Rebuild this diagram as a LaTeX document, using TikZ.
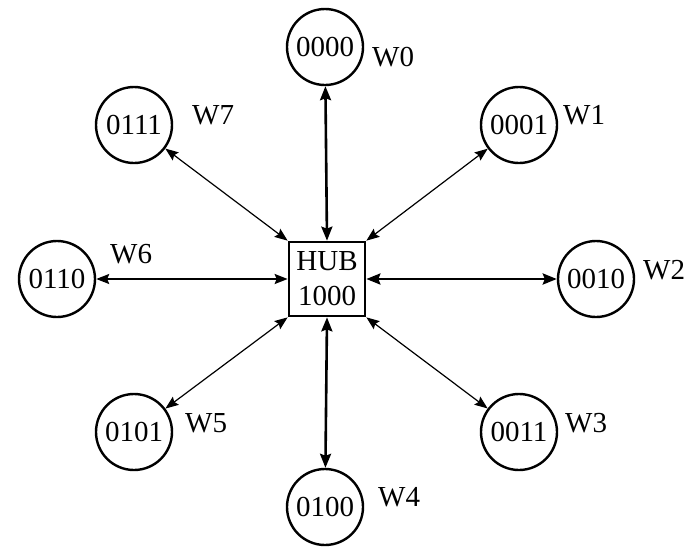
\documentclass[tikz,border=0pt]{standalone}
\usepackage{fontspec}
\setmainfont{Liberation Serif}
\usetikzlibrary{arrows.meta,positioning}
\tikzset{
  station/.style={draw,circle,line width=2.4pt,minimum size=76pt,inner sep=0pt},
  hubbox/.style={draw,rectangle,line width=2.7pt,minimum width=76pt,minimum height=74pt,inner sep=0pt,align=center},
  tag/.style={anchor=west,inner sep=0pt},
  link/.style={line width=1.2pt,{Stealth[length=13pt,width=10pt,inset=2pt]}-{Stealth[length=13pt,width=10pt,inset=2pt]}},
  midlink/.style={line width=1.7pt,{Stealth[length=13pt,width=10pt,inset=2pt]}-{Stealth[length=13pt,width=10pt,inset=2pt]}},
  thicklink/.style={line width=2.6pt,{Stealth[length=14pt,width=11pt,inset=2pt]}-{Stealth[length=14pt,width=11pt,inset=2pt]}}
}

\begin{document}
\begin{tikzpicture}[x=1pt,y=-1pt,font=\fontsize{29}{35}\selectfont]
  \useasboundingbox (0,0) rectangle (686,547);

  \node[hubbox] (hub) at (327,279) {HUB\\1000};

  % stations round the hub
  \foreach \n/\x/\y/\code in {0/325/47/0000, 1/519/125/0001, 2/596/279/0010, 3/519/432/0011,
                             4/325/507/0100, 5/134/432/0101, 6/57/279/0110, 7/134/125/0111} {
    \node[station] (w\n) at (\x,\y) {\code};
  }

  % station tags
  \foreach \n/\x/\y in {0/372/57, 1/563/115, 2/643/270, 3/565/423,
                        4/378/497, 5/185/423, 6/110/254, 7/192/115} {
    \node[tag] (lw\n) at (\x,\y) {W\n};
  }

  \draw[thicklink] (w0) -- (hub.north);
  \draw[thicklink] (w2) -- (hub.east);
  \draw[thicklink] (w4) -- (hub.south);
  \draw[midlink] (w6) -- (hub.west);
  \draw[link] (w1) -- (hub.north east);
  \draw[link] (w3) -- (hub.south east);
  \draw[link] (w5) -- (hub.south west);
  \draw[link] (w7) -- (hub.north west);
\end{tikzpicture}
\end{document}
